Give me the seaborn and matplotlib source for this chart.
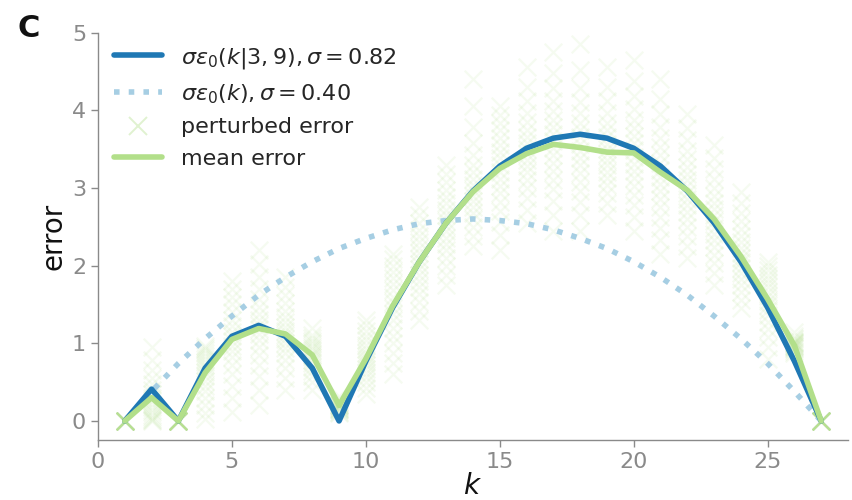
import numpy as np
import pandas as pd
import matplotlib
matplotlib.use("Agg")
import matplotlib.pyplot as plt
from matplotlib.lines import Line2D
import seaborn as sns

# ---------------- data ----------------
k_values = list(range(1, 28))

# sigma * eps0(k | 3, 9), sigma = 0.82
err_nodes = [0.0, 0.41, 0.0, 0.68, 1.09, 1.23, 1.09, 0.68, 0.0,
             0.77, 1.46, 2.05, 2.55, 2.96, 3.28, 3.51, 3.64, 3.69,
             3.64, 3.51, 3.28, 2.96, 2.55, 2.05, 1.46, 0.77, 0.0]

# sigma * eps0(k), sigma = 0.40
err_plain = [0.0, 0.38, 0.74, 1.06, 1.35, 1.62, 1.85, 2.05, 2.22,
             2.35, 2.46, 2.54, 2.58, 2.60, 2.58, 2.54, 2.46, 2.35,
             2.22, 2.05, 1.85, 1.62, 1.35, 1.06, 0.74, 0.38, 0.0]

# mean of perturbed errors
err_mean = [0.0, 0.30, 0.0, 0.62, 1.05, 1.19, 1.12, 0.85, 0.20,
            0.80, 1.48, 2.05, 2.55, 2.95, 3.25, 3.44, 3.56, 3.52,
            3.46, 3.45, 3.20, 2.97, 2.60, 2.12, 1.57, 0.97, 0.0]

# perturbed errors (samples per k)
perturbed_error = [
    [0, 0, 0, 0, 0, 0, 0, 0, 0, 0, 0, 0, 0, 0, 0, 0, 0, 0],
    [0, 0.01, 0.03, 0.05, 0.08, 0.11, 0.14, 0.18, 0.22, 0.26, 0.3, 0.35, 0.4, 0.47, 0.55, 0.65, 0.78, 0.95],
    [0, 0, 0, 0, 0, 0, 0, 0, 0, 0, 0, 0, 0, 0, 0, 0, 0, 0],
    [0.02, 0.1, 0.2, 0.3, 0.38, 0.45, 0.52, 0.58, 0.63, 0.68, 0.72, 0.76, 0.8, 0.84, 0.88, 0.91, 0.94, 0.97],
    [0.12, 0.3, 0.45, 0.6, 0.72, 0.82, 0.9, 0.97, 1.03, 1.09, 1.15, 1.22, 1.3, 1.4, 1.5, 1.6, 1.7, 1.8],
    [0.2, 0.4, 0.58, 0.72, 0.85, 0.95, 1.04, 1.12, 1.18, 1.24, 1.3, 1.38, 1.47, 1.57, 1.7, 1.85, 2.02, 2.2],
    [0.4, 0.55, 0.68, 0.78, 0.87, 0.94, 1.0, 1.06, 1.11, 1.16, 1.21, 1.27, 1.34, 1.42, 1.52, 1.62, 1.73, 1.85],
    [0.4, 0.5, 0.58, 0.64, 0.7, 0.74, 0.78, 0.82, 0.85, 0.88, 0.91, 0.94, 0.97, 1.0, 1.03, 1.07, 1.11, 1.2],
    [0.1, 0.12, 0.14, 0.15, 0.16, 0.17, 0.18, 0.19, 0.2, 0.2, 0.21, 0.22, 0.23, 0.24, 0.25, 0.27, 0.29, 0.32],
    [0.35, 0.42, 0.5, 0.56, 0.62, 0.67, 0.72, 0.76, 0.8, 0.84, 0.88, 0.93, 0.98, 1.04, 1.1, 1.16, 1.23, 1.3],
    [0.6, 0.75, 0.88, 1.0, 1.1, 1.2, 1.3, 1.38, 1.46, 1.53, 1.6, 1.68, 1.76, 1.84, 1.92, 2.0, 2.08, 2.15],
    [1.3, 1.42, 1.53, 1.63, 1.72, 1.8, 1.88, 1.95, 2.02, 2.09, 2.16, 2.23, 2.3, 2.38, 2.46, 2.55, 2.65, 2.75],
    [1.75, 1.88, 2.0, 2.1, 2.2, 2.28, 2.36, 2.44, 2.51, 2.58, 2.65, 2.72, 2.8, 2.88, 2.97, 3.07, 3.18, 3.3],
    [2.25, 2.38, 2.5, 2.6, 2.68, 2.76, 2.83, 2.9, 2.97, 3.04, 3.12, 3.2, 3.3, 3.42, 3.58, 3.78, 4.05, 4.4],
    [2.2, 2.4, 2.56, 2.7, 2.82, 2.93, 3.03, 3.12, 3.21, 3.3, 3.38, 3.46, 3.55, 3.64, 3.74, 3.84, 3.94, 4.05],
    [2.55, 2.72, 2.87, 3.0, 3.1, 3.2, 3.28, 3.36, 3.43, 3.5, 3.58, 3.66, 3.75, 3.85, 3.97, 4.12, 4.3, 4.55],
    [2.45, 2.65, 2.83, 2.98, 3.1, 3.22, 3.32, 3.42, 3.51, 3.6, 3.69, 3.78, 3.88, 3.99, 4.12, 4.28, 4.48, 4.75],
    [2.45, 2.65, 2.82, 2.96, 3.08, 3.19, 3.29, 3.38, 3.47, 3.56, 3.65, 3.74, 3.84, 3.96, 4.1, 4.28, 4.52, 4.85],
    [2.65, 2.8, 2.93, 3.04, 3.13, 3.21, 3.29, 3.36, 3.43, 3.5, 3.57, 3.65, 3.74, 3.84, 3.96, 4.12, 4.3, 4.55],
    [2.45, 2.62, 2.78, 2.91, 3.03, 3.13, 3.22, 3.31, 3.4, 3.49, 3.58, 3.67, 3.77, 3.88, 4.01, 4.18, 4.38, 4.65],
    [2.15, 2.33, 2.49, 2.63, 2.75, 2.86, 2.96, 3.05, 3.14, 3.23, 3.32, 3.42, 3.52, 3.64, 3.78, 3.95, 4.15, 4.4],
    [2.1, 2.25, 2.38, 2.5, 2.6, 2.69, 2.78, 2.86, 2.94, 3.02, 3.1, 3.18, 3.27, 3.37, 3.48, 3.61, 3.77, 3.95],
    [1.75, 1.9, 2.03, 2.14, 2.24, 2.33, 2.41, 2.49, 2.57, 2.65, 2.73, 2.81, 2.9, 3.0, 3.11, 3.24, 3.38, 3.55],
    [1.45, 1.56, 1.66, 1.75, 1.83, 1.9, 1.97, 2.04, 2.1, 2.16, 2.23, 2.3, 2.38, 2.47, 2.57, 2.68, 2.8, 2.95],
    [0.8, 0.95, 1.08, 1.19, 1.28, 1.36, 1.43, 1.49, 1.55, 1.61, 1.66, 1.72, 1.77, 1.83, 1.88, 1.94, 2.0, 2.05],
    [0.88, 0.9, 0.92, 0.94, 0.95, 0.96, 0.97, 0.98, 0.99, 1.0, 1.0, 1.01, 1.02, 1.03, 1.05, 1.07, 1.1, 1.14],
    [0, 0, 0, 0, 0, 0, 0, 0, 0, 0, 0, 0, 0, 0, 0, 0, 0, 0],
]

label_nodes = r'$\sigma\varepsilon_0(k|3,9),\sigma=0.82$'
label_plain = r'$\sigma\varepsilon_0(k),\sigma=0.40$'
label_pert = 'perturbed error'
label_mean = 'mean error'

# ---------------- style ----------------
sns.set_theme(style="ticks")
plt.rcParams['font.family'] = ['DejaVu Sans']
plt.rcParams['mathtext.fontset'] = 'dejavusans'

pal = sns.color_palette("Paired")
c_light_blue = pal[0]
c_dark_blue = pal[1]
c_green = pal[2]
grey = '#8a8a8a'

df_lines = pd.DataFrame({'k': k_values, 'nodes': err_nodes,
                         'plain': err_plain, 'mean': err_mean})
pk, pv = [], []
for kk, vals in zip(k_values, perturbed_error):
    for v in vals:
        pk.append(kk)
        pv.append(v)
df_pert = pd.DataFrame({'k': pk, 'err': pv})

fig = plt.figure(figsize=(8.52, 5.0), dpi=100)
ax = fig.add_axes([0.115, 0.12, 0.8803, 0.815])

sns.scatterplot(data=df_pert, x='k', y='err', marker='x', s=160,
                color=c_green, alpha=0.12, linewidth=1.6, ax=ax,
                legend=False, zorder=1)
sns.lineplot(data=df_lines, x='k', y='plain', color=c_light_blue, lw=4,
             linestyle=':', ax=ax, zorder=2)
sns.lineplot(data=df_lines, x='k', y='nodes', color=c_dark_blue, lw=4,
             ax=ax, zorder=3)
sns.lineplot(data=df_lines, x='k', y='mean', color=c_green, lw=4,
             ax=ax, zorder=4)

ax.set_xlim(0, 28)
ax.set_ylim(-0.245, 5.0)
ax.set_xticks([0, 5, 10, 15, 20, 25])
ax.set_yticks([0, 1, 2, 3, 4, 5])
ax.tick_params(axis='both', labelsize=16, colors=grey, length=5, width=1)
for side in ['top', 'right']:
    ax.spines[side].set_visible(False)
for side in ['left', 'bottom']:
    ax.spines[side].set_color(grey)
    ax.spines[side].set_linewidth(1)

ax.set_xlabel(r'$k$', fontsize=20, color='#111111', labelpad=0)
ax.set_ylabel('error', fontsize=20, color='#111111', labelpad=3)

handles = [
    Line2D([], [], color=c_dark_blue, lw=4),
    Line2D([], [], color=c_light_blue, lw=4, linestyle=':'),
    Line2D([], [], color=c_green, marker='x', linestyle='none',
           markersize=13, markeredgewidth=1.4, alpha=0.4),
    Line2D([], [], color=c_green, lw=4),
]
labels = [label_nodes, label_plain, label_pert, label_mean]
ax.legend(handles, labels, loc='upper left', bbox_to_anchor=(0.007, 0.995),
          frameon=False, fontsize=16, handlelength=2.15, handletextpad=0.85,
          labelspacing=0.52, borderaxespad=0.1)

fig.text(0.02, 0.926, 'C', fontsize=22, fontweight='bold', color='#111111')

fig.savefig('out.png', dpi=100)
